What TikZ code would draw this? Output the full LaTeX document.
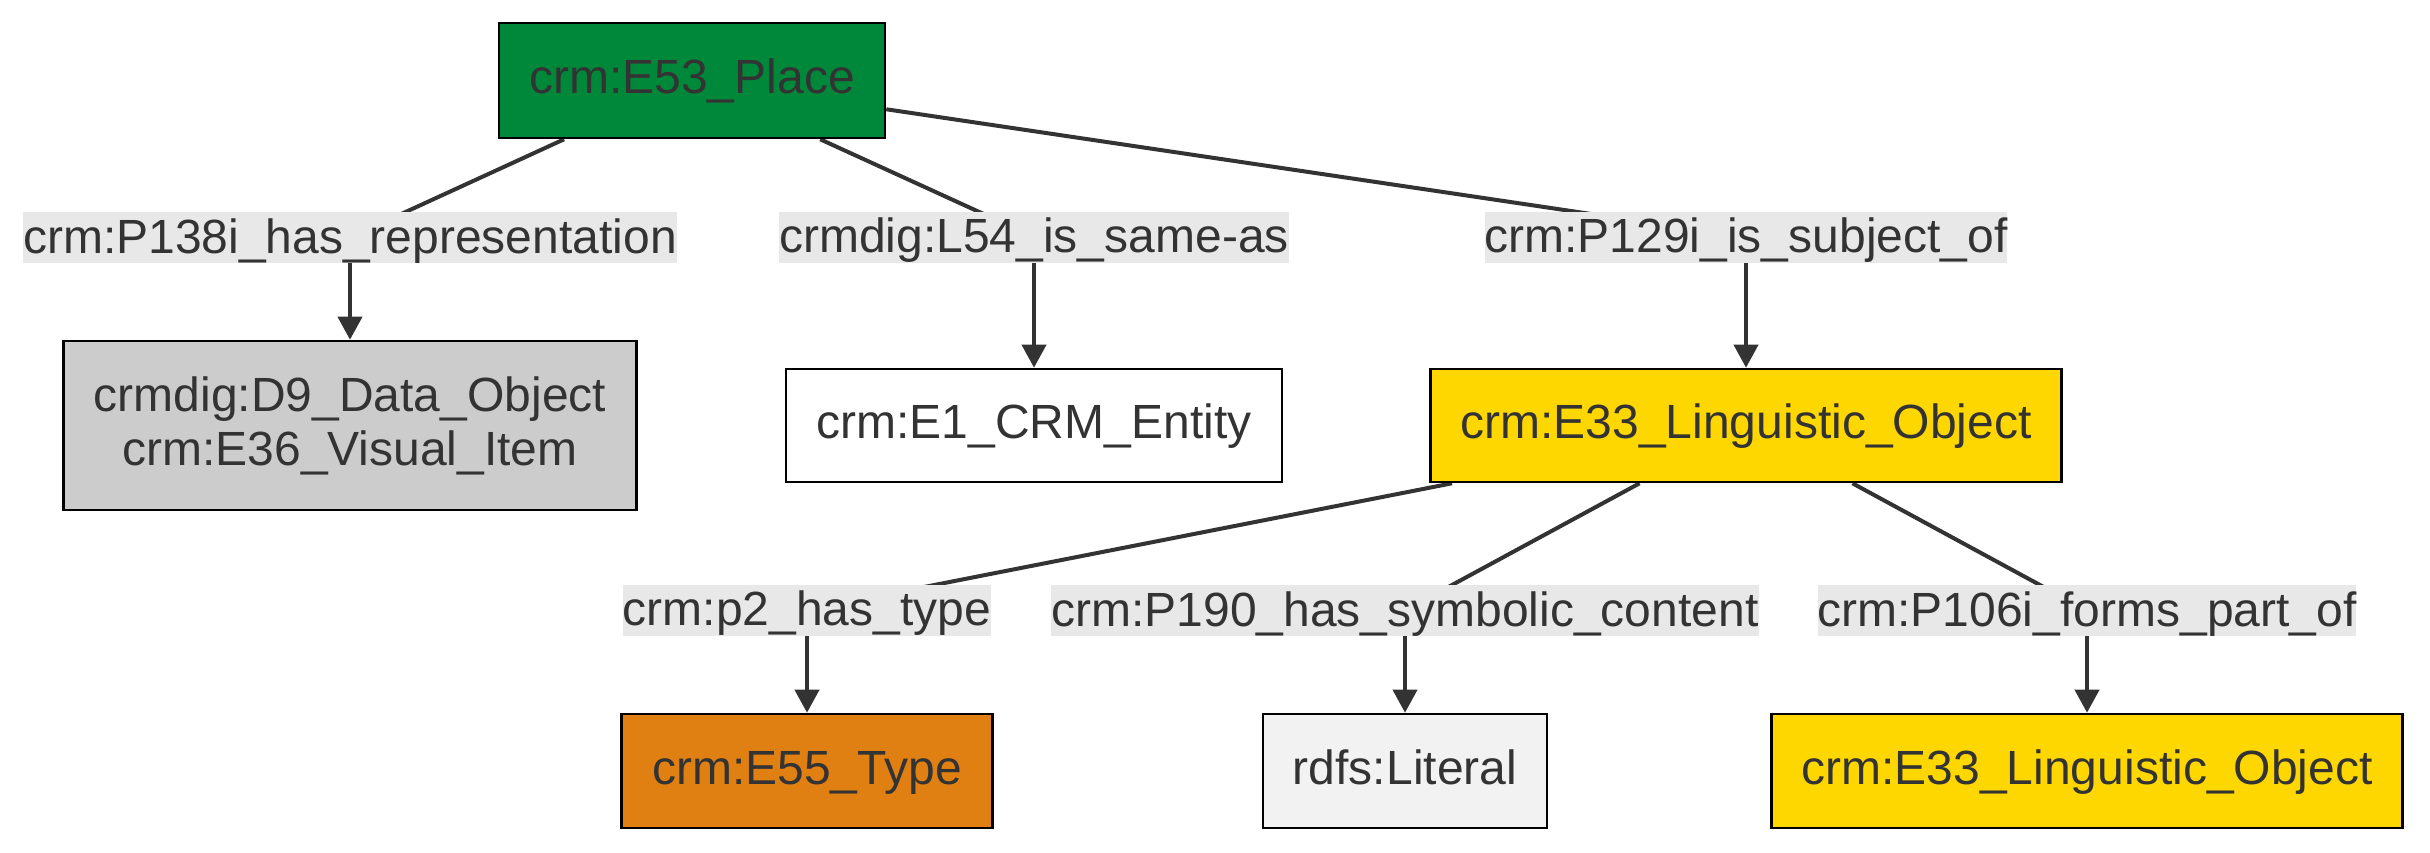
\documentclass[tikz,border=0pt]{standalone}
\usepackage{fontspec}
\setmainfont{Liberation Sans}
\usetikzlibrary{arrows.meta,backgrounds}
\definecolor{txt}{HTML}{333333}
\definecolor{edgec}{HTML}{333333}
\definecolor{lblbg}{HTML}{E8E8E8}
\definecolor{placegreen}{HTML}{00883A}
\definecolor{dataobj}{HTML}{CCCCCC}
\definecolor{lingo}{HTML}{FFD700}
\definecolor{typeor}{HTML}{E08012}
\definecolor{litc}{HTML}{F2F2F2}
\tikzset{
  every node/.style={font=\fontsize{48}{54}\selectfont, text=txt},
  entbox/.style={draw=black, line width=2.6pt, inner sep=0pt, minimum height=114pt,
     text height=36pt, text depth=10pt},
  twoline/.style={draw=black, line width=2.6pt, inner sep=0pt, align=center},
  elabel/.style={fill=lblbg, inner sep=0pt, text height=41pt, text depth=10pt},
  link/.style={draw=edgec, line width=4pt},
  arr/.style={link, -{Triangle[length=23pt,width=24pt]}}
}
\begin{document}
\begin{tikzpicture}[x=1pt,y=-1pt]
\useasboundingbox (0,0) rectangle (2430,852);
% entity boxes
\node[entbox, fill=placegreen, minimum width=386pt, minimum height=115pt] (e53) at (692,80.5) {crm:E53\_Place};
\node[twoline, fill=dataobj, minimum width=573pt, minimum height=169pt] (d9) at (350,425.5) {crmdig:D9\_Data\_Object\\crm:E36\_Visual\_Item};
\node[entbox, fill=white, minimum width=496pt, minimum height=113pt] (e1) at (1034,425.5) {crm:E1\_CRM\_Entity};
\node[entbox, fill=lingo, minimum width=631pt, minimum height=113pt] (e33) at (1746,425.5) {crm:E33\_Linguistic\_Object};
\node[entbox, fill=typeor, minimum width=371pt] (e55) at (807,771) {crm:E55\_Type};
\node[entbox, fill=litc, minimum width=284pt] (lit) at (1405,771) {rdfs:Literal};
\node[entbox, fill=lingo, minimum width=631pt] (e33b) at (2087,771) {crm:E33\_Linguistic\_Object};
% edge labels
\node[elabel] (l1) at (350,237.5) {crm:P138i\_has\_representation};
\node[elabel] (l2) at (1034,237) {crmdig:L54\_is\_same-as};
\node[elabel] (l3) at (1746,237) {crm:P129i\_is\_subject\_of};
\node[elabel] (l4) at (807,610) {crm:p2\_has\_type};
\node[elabel] (l5) at (1405,610.5) {crm:P190\_has\_symbolic\_content};
\node[elabel] (l6) at (2087,610.5) {crm:P106i\_forms\_part\_of};
% connectors
\begin{pgfonlayer}{background}
\draw[link] (e53) -- (l1.center);
\draw[arr] (l1.center) -- (d9);
\draw[link] (e53) -- (l2.center);
\draw[arr] (l2.center) -- (e1);
\draw[link] (e53) -- (l3.center);
\draw[arr] (l3.center) -- (e33);
\draw[link] (e33) -- (l4.center);
\draw[arr] (l4.center) -- (e55);
\draw[link] (e33) -- (l5.center);
\draw[arr] (l5.center) -- (lit);
\draw[link] (e33) -- (l6.center);
\draw[arr] (l6.center) -- (e33b);
\end{pgfonlayer}
\end{tikzpicture}
\end{document}
